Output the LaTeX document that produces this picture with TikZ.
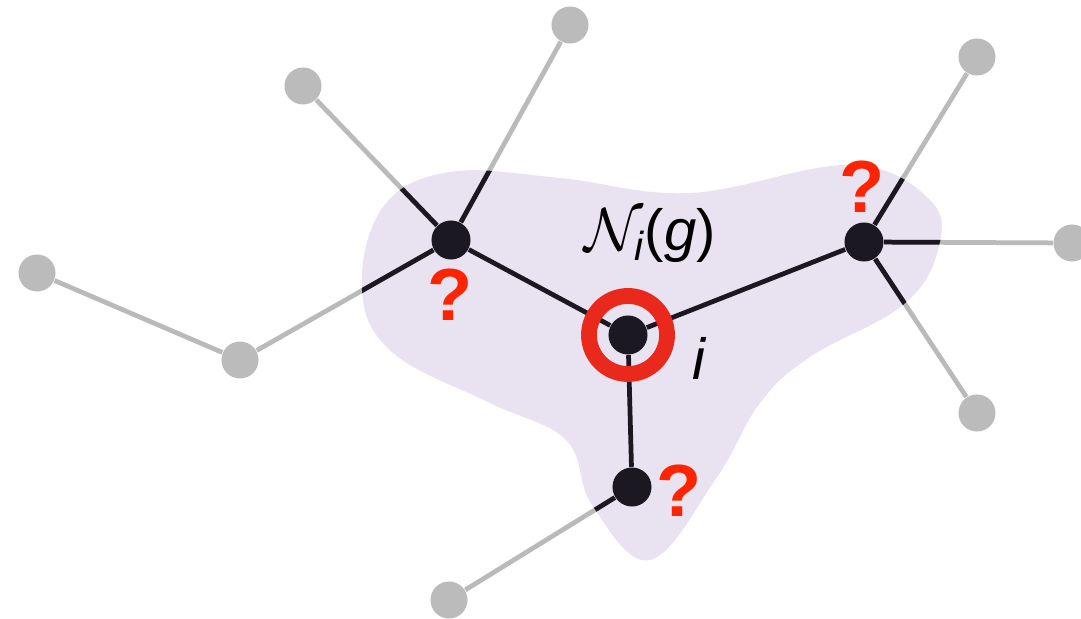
\documentclass[tikz,border=0pt]{standalone}
\usepackage{fontspec}
\setmainfont{Liberation Sans}
\usepackage{amsmath}
\usepackage{xcolor}
\definecolor{Lilac}{HTML}{E9E2F1}
\definecolor{Ink}{HTML}{1C1822}
\definecolor{Ash}{HTML}{BBBBBB}
\definecolor{AshLine}{HTML}{B8BBB7}
\definecolor{Alarm}{HTML}{FF2400}
\definecolor{RingRed}{HTML}{E8291C}
\pgfdeclarelayer{blob}
\pgfdeclarelayer{edges}
\pgfsetlayers{blob,edges,main}
\tikzset{
 hub/.style={circle, fill=Ink, minimum size=0.39cm, inner sep=0pt},
 leaf/.style={circle, fill=Ash, minimum size=0.37cm, inner sep=0pt},
 greyedge/.style={draw=AshLine, line width=1.35pt},
 darkedge/.style={draw=Ink, line width=1.35pt},
 ringline/.style={draw=RingRed, line width=4.5pt},
 query/.style={text=Alarm, font=\fontsize{21}{24}\selectfont\bfseries, inner sep=0pt}
}
\newcommand{\nbhdpath}{plot[smooth cycle, tension=0.65] coordinates {
 (362,290) (383,207) (450,172) (560,178) (690,193) (850,165) (930,200)
 (938,250) (903,305) (810,357) (760,403) (717,477) (650,560) (592,505)
 (566,440) (490,403) (393,353)}}

\begin{document}
\begin{tikzpicture}[x=0.01cm, y=-0.01cm]
\useasboundingbox (0,0) rectangle (1081,619);

% agents
\node[hub] (i) at (628,335) {};
\node[hub] (A) at (451,240) {};
\node[hub] (B) at (864,242) {};
\node[hub] (C) at (632,487) {};
\node[leaf] (t1) at (570,25) {};
\node[leaf] (t2) at (303,86) {};
\node[leaf] (l1) at (37,273) {};
\node[leaf] (l2) at (240,360) {};
\node[leaf] (r1) at (977,57) {};
\node[leaf] (r2) at (1072,243) {};
\node[leaf] (r3) at (977,413) {};
\node[leaf] (b1) at (449,600) {};

% neighbourhood of i
\begin{pgfonlayer}{blob}
\fill[Lilac] \nbhdpath;
\end{pgfonlayer}

% links: grey outside, dark inside the neighbourhood
\begin{pgfonlayer}{edges}
\draw[greyedge] (A) -- (t1) (A) -- (t2) (A) -- (l2) (l2) -- (l1)
 (B) -- (r1) (B) -- (r2) (B) -- (r3) (C) -- (b1);
\begin{scope}
\clip \nbhdpath;
\draw[darkedge] (A) -- (t1) (A) -- (t2) (A) -- (l2)
 (B) -- (r1) (B) -- (r2) (B) -- (r3) (C) -- (b1)
 (i) -- (A) (i) -- (B) (i) -- (C);
\end{scope}
\end{pgfonlayer}

\draw[ringline] (i.center) circle[radius=0.39cm];

% labels
\node[font=\fontsize{16.5}{19}\selectfont] (nlabel) at (650,236) {$\mathcal{N}_{\textit{i}}$(\textit{g})};
\node[font=\fontsize{16.5}{19}\selectfont\itshape] (ilabel) at (699,358) {i};
\node[query] (qA) at (450,295) {?};
\node[query] (qB) at (862,187) {?};
\node[query] (qC) at (679,491) {?};
\end{tikzpicture}
\end{document}
